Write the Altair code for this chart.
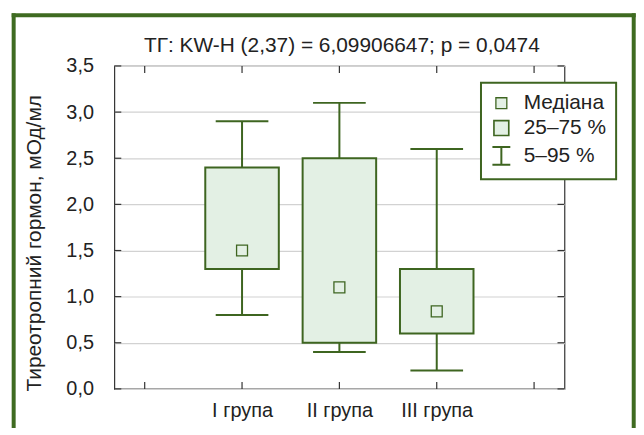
import altair as alt
import pandas as pd

# ---- data ----
groups = ["I група", "II група", "III група"]
whisker_low = [0.8, 0.4, 0.2]
box_q1 = [1.3, 0.5, 0.6]
median = [1.5, 1.1, 0.84]
box_q3 = [2.4, 2.5, 1.3]
whisker_high = [2.9, 3.1, 2.6]

x_slots = ["", "I група", "II група", "III група", " "]
y_ticks = [0.0, 0.5, 1.0, 1.5, 2.0, 2.5, 3.0, 3.5]
legend_labels = ["Медіана", "25–75 %", "5–95 %"]
title_text = "ТГ: KW-H (2,37) = 6,09906647; p = 0,0474"
y_title = "Тиреотропний гормон, мОд/мл"

# ---- style ----
GREEN = "#3e6520"
FILL = "#e3f0e4"
FRAME = "#3f6b21"
AX = "#333333"
TXT = "#222222"
FONT = "Liberation Sans"
FS = 20
W, H = 453, 325
IBEAM = "M-1,-1H1M0,-1V1M-1,1H1"

df = pd.DataFrame({
    "group": groups,
    "lo": whisker_low,
    "q1": box_q1,
    "med": median,
    "q3": box_q3,
    "hi": whisker_high,
})

xsc = alt.Scale(type="point", domain=x_slots, padding=0.312)
xax = alt.Axis(title=None, ticks=False, domain=False, grid=False, labelPadding=12,
               labelFontSize=FS, labelFont=FONT, labelColor=TXT, labelAngle=0)
ysc = alt.Scale(domain=[0, 3.5], nice=False, zero=True)
yax = alt.Axis(title=y_title, values=y_ticks,
               labelExpr="replace(format(datum.value, '.1f'), '.', ',')",
               ticks=False, domain=False, grid=True, gridColor="#d2d2d2", gridWidth=1.2,
               labelPadding=21, labelFontSize=FS, labelFont=FONT, labelColor=TXT,
               titleFontSize=21, titleFont=FONT, titleColor=TXT, titleFontWeight="normal",
               titleX=-74, titleY=178, titleAngle=270, titleAlign="center",
               titleBaseline="alphabetic")

X = alt.X("group:N", scale=xsc, axis=xax)
base = alt.Chart(df)

whisk = base.mark_rule(color=GREEN, strokeWidth=2).encode(
    x=X, y=alt.Y("lo:Q", scale=ysc, axis=yax), y2="hi:Q")
box = base.mark_bar(size=74, fill=FILL, stroke=GREEN, strokeWidth=2).encode(
    x=X, y=alt.Y("q1:Q", scale=ysc, axis=yax), y2="q3:Q")
cap_lo = base.mark_tick(orient="horizontal", size=53, thickness=2, color=GREEN, opacity=1).encode(
    x=X, y=alt.Y("lo:Q", scale=ysc, axis=yax))
cap_hi = base.mark_tick(orient="horizontal", size=53, thickness=2, color=GREEN, opacity=1).encode(
    x=X, y=alt.Y("hi:Q", scale=ysc, axis=yax))
med = base.mark_point(shape="square", size=121, filled=True, fill=FILL, stroke=GREEN,
                      strokeWidth=1.3, opacity=1).encode(
    x=X, y=alt.Y("med:Q", scale=ysc, axis=yax))

# inward ticks on all four sides
xt_df = pd.DataFrame({"slot": x_slots})
yt_df = pd.DataFrame({"v": y_ticks})
XT = alt.X("slot:N", scale=xsc, axis=xax)
YT = alt.Y("v:Q", scale=ysc, axis=yax)
tick_kw = dict(size=7, thickness=1.2, color=AX, opacity=1)
t_bottom = alt.Chart(xt_df).mark_tick(orient="vertical", **tick_kw).encode(x=XT, y=alt.value(H - 3.5))
t_top = alt.Chart(xt_df).mark_tick(orient="vertical", **tick_kw).encode(x=XT, y=alt.value(3.5))
t_left = alt.Chart(yt_df).mark_tick(orient="horizontal", **tick_kw).encode(y=YT, x=alt.value(3.5))
t_right = alt.Chart(yt_df).mark_tick(orient="horizontal", **tick_kw).encode(y=YT, x=alt.value(W - 3.5))

# legend (driven by a scale with explicit domain)
leg_df = pd.DataFrame({"leg": legend_labels})
legend_layer = alt.Chart(leg_df).transform_filter("false").mark_point(
    filled=True, fill=FILL, stroke=GREEN, opacity=1).encode(
    shape=alt.Shape("leg:N", scale=alt.Scale(domain=legend_labels, range=["square", "square", IBEAM]),
                    legend=alt.Legend(title=None, orient="none", legendX=369, legendY=17,
                                      padding=10, strokeColor=GREEN, fillColor="white",
                                      labelFontSize=21, labelFont=FONT, labelColor=TXT,
                                      labelOffset=12, rowPadding=3,
                                      symbolStrokeColor=GREEN, symbolFillColor=FILL,
                                      zindex=2)),
    size=alt.Size("leg:N", scale=alt.Scale(domain=legend_labels, range=[121, 324, 324])),
    strokeWidth=alt.StrokeWidth("leg:N", scale=alt.Scale(domain=legend_labels, range=[1.3, 2, 2])),
)

# title as text above the plot
bdf = pd.DataFrame({"k": [0]})
title_layer = alt.Chart(bdf).mark_text(
    text=title_text, font=FONT, fontSize=21, color=TXT, align="center",
    baseline="alphabetic").encode(x=alt.value(W / 2 + 2.5), y=alt.value(-14.3))

# decorative outer frame (left, top, right)
frame_kw = dict(color=FRAME, strokeWidth=4, strokeCap="square")
f_left = alt.Chart(bdf).mark_rule(**frame_kw).encode(
    x=alt.value(-101.3), y=alt.value(-51), y2=alt.value(H + 45))
f_top = alt.Chart(bdf).mark_rule(**frame_kw).encode(
    x=alt.value(-101.3), x2=alt.value(522.7), y=alt.value(-51))
f_right = alt.Chart(bdf).mark_rule(**frame_kw).encode(
    x=alt.value(522.7), y=alt.value(-51), y2=alt.value(H + 45))

chart = alt.layer(
    whisk, box, cap_lo, cap_hi, med,
    t_bottom, t_top, t_left, t_right,
    legend_layer, title_layer, f_left, f_top, f_right,
).properties(
    width=W, height=H,
    padding={"left": 107, "top": 57, "right": 72, "bottom": 38},
    autosize=alt.AutoSizeParams(type="none"),
    background="white",
).configure_view(
    stroke=AX, strokeWidth=1.2
).configure_legend(
    strokeWidth=2
)

chart.save("out.html", embed_options={"renderer": "svg", "actions": False})
